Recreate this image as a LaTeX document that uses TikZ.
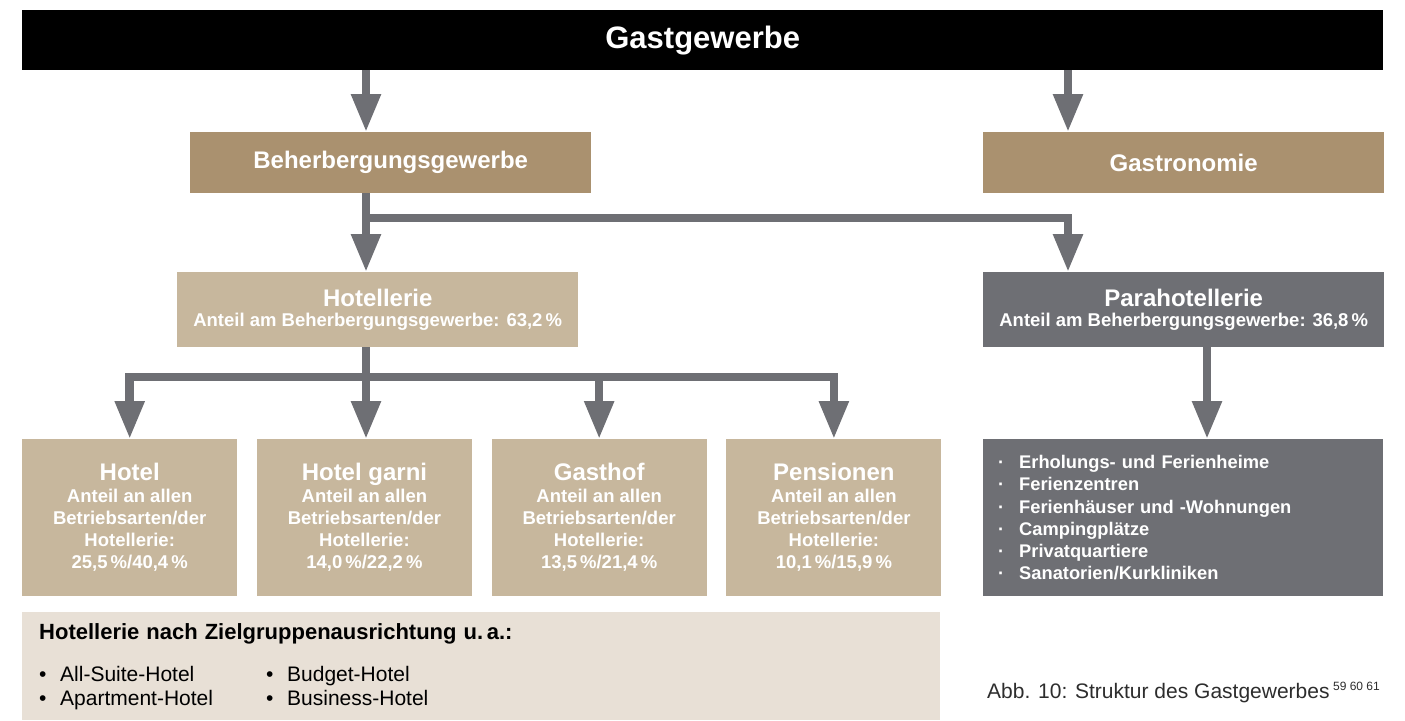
\documentclass[tikz,border=0pt]{standalone}
\definecolor{GastBrown}{RGB}{170,145,111}
\definecolor{HotelSand}{RGB}{199,183,157}
\definecolor{ParaGrey}{RGB}{110,111,116}
\definecolor{NoteBg}{RGB}{232,224,214}
\definecolor{CaptionGrey}{RGB}{45,45,45}
\usepackage{fontspec}
\setmainfont{Liberation Sans}
\usepackage{tikz}
\usetikzlibrary{arrows.meta, positioning, calc}

\newcommand{\boxtitle}[1]{{\fontsize{24}{22}\selectfont #1}}
\newcommand{\paradot}{\makebox[21pt][l]{\textperiodcentered}}
\newcommand{\notebullet}[1]{\makebox[227pt][l]{\makebox[21pt][l]{\textbullet}#1}}

\begin{document}
\begin{tikzpicture}[x=1pt, y=-1pt,
    node distance=19.33pt,
    box/.style={rectangle, inner sep=0pt, text=white, align=center,
                font=\fontsize{18.5}{20}\selectfont\bfseries},
    topbar/.style={box, fill=black, minimum width=1361pt, minimum height=60pt,
                   font=\fontsize{31}{34}\selectfont\bfseries},
    catbox/.style={box, fill=GastBrown, minimum width=401pt, minimum height=61pt,
                   font=\fontsize{24}{26}\selectfont\bfseries},
    subbox/.style={box, fill=HotelSand, minimum width=401pt, minimum height=75pt},
    parabox/.style={subbox, fill=ParaGrey},
    typebox/.style={box, fill=HotelSand, minimum width=215pt, minimum height=157pt,
                    font=\fontsize{18.5}{22}\selectfont\bfseries},
    listbox/.style={box, fill=ParaGrey, minimum width=400pt, minimum height=157pt,
                    align=left, text width=370pt, inner xsep=15pt,
                    font=\fontsize{18.3}{22.3}\selectfont\bfseries},
    notebox/.style={box, fill=NoteBg, text=black, minimum width=918pt, minimum height=108pt,
                    align=left, text width=884pt, inner xsep=17pt,
                    font=\fontsize{21}{24}\selectfont},
    caption/.style={inner sep=0pt, text=CaptionGrey, font=\fontsize{21}{24}\selectfont},
    arr/.style={-{Triangle[width=28pt,length=38pt]}, line width=8.5pt, draw=ParaGrey}
  ]
    \useasboundingbox (0,0) rectangle (1405,720);

    \node[topbar, anchor=north west] (gast) at (22,10) {Gastgewerbe};
    \node[catbox, anchor=north west] (beh) at (190,132) {Beherbergungsgewerbe};
    \node[catbox, anchor=north west] (gastro) at (983,132) {Gastronomie};
    \node[subbox, anchor=north west] (hot) at (177,272)
      {\boxtitle{Hotellerie}\\Anteil am Beherbergungsgewerbe: 63,2\,\%};
    \node[parabox, anchor=north west] (para) at (983,272)
      {\boxtitle{Parahotellerie}\\Anteil am Beherbergungsgewerbe: 36,8\,\%};
    \node[typebox, anchor=north west] (hotel) at (22,439)
      {\boxtitle{Hotel}\\Anteil an allen\\Betriebsarten/der\\Hotellerie:\\25,5\,\%/40,4\,\%};
    \node[typebox, right=of hotel] (garni)
      {\boxtitle{Hotel garni}\\Anteil an allen\\Betriebsarten/der\\Hotellerie:\\14,0\,\%/22,2\,\%};
    \node[typebox, right=of garni] (gasthof)
      {\boxtitle{Gasthof}\\Anteil an allen\\Betriebsarten/der\\Hotellerie:\\13,5\,\%/21,4\,\%};
    \node[typebox, right=of gasthof] (pension)
      {\boxtitle{Pensionen}\\Anteil an allen\\Betriebsarten/der\\Hotellerie:\\10,1\,\%/15,9\,\%};
    \node[listbox, anchor=north west] (paralist) at (983,439)
      {\paradot Erholungs- und Ferienheime\\\paradot Ferienzentren\\
       \paradot Ferienhäuser und -Wohnungen\\\paradot Campingplätze\\
       \paradot Privatquartiere\\\paradot Sanatorien/Kurkliniken};
    \node[notebox, anchor=north west] (note) at (22,612)
      {{\fontsize{22}{24}\selectfont\bfseries Hotellerie nach Zielgruppenausrichtung u.\,a.:}\\[18pt]
       \notebullet{All-Suite-Hotel}\notebullet{Budget-Hotel}\\
       \notebullet{Apartment-Hotel}\notebullet{Business-Hotel}};
    \node[caption, anchor=base west] (cap) at (987,698)
      {Abb. 10: Struktur des Gastgewerbes\,\raisebox{8pt}{\fontsize{12}{12}\selectfont 59 60 61}};

    \coordinate (lcol) at (366,0);
    \coordinate (rcol) at (1068,0);
    \coordinate (pcol) at (1207,0);
    \coordinate (split1) at (366,218);
    \coordinate (split2) at (366,377);

    \draw[arr](gast.south -| lcol)--(beh.north -| lcol);
    \draw[arr](gast.south -| rcol)--(gastro.north -| rcol);
    \draw[arr](beh.south -| lcol)--(hot.north -| lcol);
    \draw[arr](split1) -| (para.north -| rcol);
    \draw[arr](hot.south -| lcol)--(garni.north -| lcol);
    \draw[arr](split2) -| (hotel.north);
    \draw[arr](split2) -| (gasthof.north);
    \draw[arr](split2) -| (pension.north);
    \draw[arr](para.south -| pcol)--(paralist.north -| pcol);
  \end{tikzpicture}
\end{document}
